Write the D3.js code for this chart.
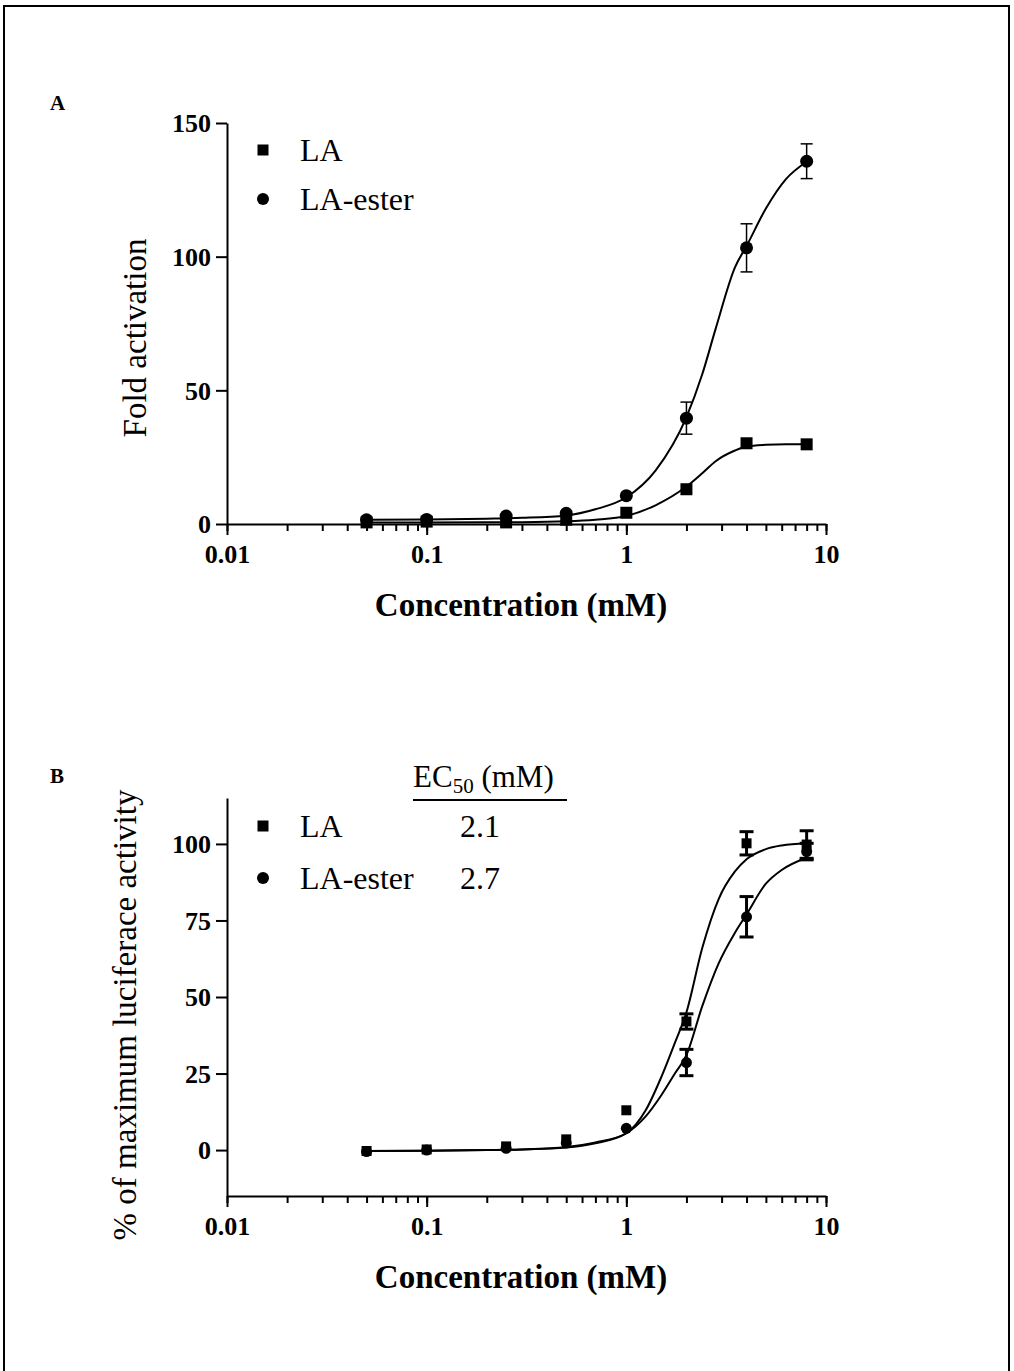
<!DOCTYPE html>
<html>
<head>
<meta charset="utf-8">
<script src="https://cdn.jsdelivr.net/npm/d3@7"></script>
<style>
  body { margin: 0; background: #fff; }
  svg { display: block; }
  text { font-family: "Liberation Serif", "Times New Roman", serif; fill: #000; }
</style>
</head>
<body>
<script>
// concentrations (mM), shared by both panels
const conc = [0.05, 0.1, 0.25, 0.5, 1, 2, 4, 8];
const xMajor = [0.01, 0.1, 1, 10];
const xMajorLabels = ["0.01", "0.1", "1", "10"];

// Panel A: fold activation
const aLA = [0.6, 0.9, 0.6, 1.6, 4.2, 13, 30.2, 29.8];
const aLAErr = [0, 0, 0, 0, 0, 0, 0, 0];
const aEster = [1.6, 1.7, 3, 4, 10.6, 39.6, 103.3, 135.7];
const aEsterErr = [0, 0, 0, 0, 0, 6, 9, 6.5];
const aYTicks = [0, 50, 100, 150];

// fitted curves of panel A
const aFitX = [0.05, 0.1, 0.2, 0.3, 0.5, 0.7, 1, 1.4, 2, 2.4, 2.8, 3.5, 4, 5, 6.3, 8];
const aFitLA = [0.6, 0.6, 0.65, 0.7, 1, 1.6, 3, 7, 14, 19, 23.5, 27.5, 29, 29.6, 29.8, 29.8];
const aFitEster = [1.6, 1.7, 2, 2.3, 3.2, 5.5, 10, 20, 40, 56, 73, 96, 104, 118, 129, 135.5];

// Panel B: % of maximum
const bLA = [-0.3, 0.2, 1.2, 3.5, 13, 42, 100.2, 99.8];
const bLAErr = [0, 0, 0, 0, 0, 2.5, 3.8, 4.5];
const bEster = [-0.5, 0, 0.6, 2.3, 7.1, 28.6, 76.2, 97.5];
const bEsterErr = [0, 0, 0, 0, 0, 4.3, 6.6, 2.7];
const bYTicks = [0, 25, 50, 75, 100];
const ec50 = ["2.1", "2.7"];

const bFitX = [0.05, 0.1, 0.2, 0.3, 0.5, 0.7, 1, 1.25, 1.5, 1.75, 2, 2.4, 2.9, 3.5, 4, 5, 6, 8];
const bFitLA = [-0.3, -0.2, 0, 0.2, 0.8, 2.2, 5.5, 13, 24, 35, 45, 66, 82, 91, 95, 98.3, 99.5, 100.2];
const bFitEster = [-0.3, -0.2, 0, 0.2, 1, 2.5, 5.5, 11, 18, 25, 31, 47, 61, 71, 77, 87, 91.5, 95.5];

const W = 1014, H = 1371;
const svg = d3.select("body").append("svg").attr("width", W).attr("height", H);

// frame
svg.append("rect").attr("x", 4).attr("y", 6).attr("width", 1005).attr("height", 1400)
  .attr("fill", "none").attr("stroke", "#000").attr("stroke-width", 2);

function drawPanel(cfg) {
  const g = svg.append("g");
  const x = d3.scaleLog().domain([0.01, 10]).range([227, 826]);
  const y = d3.scaleLinear().domain(cfg.yDomain).range([cfg.xAxisY, cfg.yTop]);

  // x axis: minor ticks then major ticks
  const gx = g.append("g").attr("transform", `translate(0,${cfg.xAxisY})`);
  gx.call(d3.axisBottom(x).tickValues(x.ticks()).tickSize(7).tickSizeOuter(0).tickFormat(""));
  gx.append("g").call(d3.axisBottom(x).tickValues(xMajor).tickSize(11).tickSizeOuter(0)
      .tickFormat((d, i) => xMajorLabels[i]))
    .call(a => a.select(".domain").remove());
  gx.selectAll("path, line").attr("stroke", "#000").attr("stroke-width", 2);
  gx.selectAll("text").attr("font-size", 26).attr("font-weight", "bold")
    .attr("font-family", "Liberation Serif").attr("dy", 0).attr("y", 39);

  // y axis
  const gy = g.append("g").attr("transform", "translate(227,0)");
  gy.call(d3.axisLeft(y).tickValues(cfg.yTicks).tickSize(11).tickSizeOuter(0));
  gy.selectAll("path, line").attr("stroke", "#000").attr("stroke-width", 2);
  gy.selectAll("text").attr("font-size", 26).attr("font-weight", "bold")
    .attr("font-family", "Liberation Serif").attr("x", -16).attr("dy", "0.34em");

  // axis titles
  g.append("text").attr("x", 521).attr("y", cfg.xAxisY + 92).attr("text-anchor", "middle")
    .attr("font-size", 33).attr("font-weight", "bold").text("Concentration (mM)");
  g.append("text").attr("transform", `translate(${cfg.yTitleX},${cfg.yTitleY}) rotate(-90)`)
    .attr("text-anchor", "middle").attr("font-size", 33).text(cfg.yTitle);

  // panel letter
  g.append("text").attr("x", 50).attr("y", cfg.letterY).attr("font-size", 21)
    .attr("font-weight", "bold").text(cfg.letter);

  // fitted curves
  const line = d3.line().x(d => x(d[0])).y(d => y(d[1])).curve(d3.curveMonotoneX);
  cfg.fits.forEach(f => {
    g.append("path").datum(d3.zip(cfg.fitX, f)).attr("d", line)
      .attr("fill", "none").attr("stroke", "#000").attr("stroke-width", 2);
  });

  // error bars + markers
  cfg.series.forEach(s => {
    const pts = conc.map((c, i) => ({ c, v: s.values[i], e: s.err[i] }));
    const eb = g.append("g").attr("stroke", "#000").attr("stroke-width", cfg.errWidth);
    pts.filter(d => d.e > 0).forEach(d => {
      const cx = x(d.c);
      eb.append("line").attr("x1", cx).attr("x2", cx).attr("y1", y(d.v - d.e)).attr("y2", y(d.v + d.e));
      [d.v - d.e, d.v + d.e].forEach(v => {
        eb.append("line").attr("x1", cx - cfg.cap).attr("x2", cx + cfg.cap).attr("y1", y(v)).attr("y2", y(v));
      });
    });
    if (s.shape === "square") {
      g.selectAll(null).data(pts).join("rect")
        .attr("x", d => x(d.c) - cfg.sq / 2).attr("y", d => y(d.v) - cfg.sq / 2)
        .attr("width", cfg.sq).attr("height", cfg.sq).attr("fill", "#000");
    } else {
      g.selectAll(null).data(pts).join("circle")
        .attr("cx", d => x(d.c)).attr("cy", d => y(d.v)).attr("r", cfg.r).attr("fill", "#000");
    }
  });

  // legend
  const lg = g.append("g");
  lg.append("rect").attr("x", 263 - cfg.legSq / 2).attr("y", cfg.legY[0] - cfg.legSq / 2)
    .attr("width", cfg.legSq).attr("height", cfg.legSq).attr("fill", "#000");
  lg.append("circle").attr("cx", 263).attr("cy", cfg.legY[1]).attr("r", cfg.legR).attr("fill", "#000");
  ["LA", "LA-ester"].forEach((t, i) => {
    lg.append("text").attr("x", 300).attr("y", cfg.legY[i]).attr("dy", "0.35em")
      .attr("font-size", 32).text(t);
  });
  return g;
}

drawPanel({
  letter: "A", letterY: 110,
  yDomain: [0, 150], yTicks: aYTicks, xAxisY: 524, yTop: 123,
  yTitle: "Fold activation", yTitleX: 146, yTitleY: 338,
  fitX: aFitX, fits: [aFitLA, aFitEster],
  series: [
    { values: aLA, err: aLAErr, shape: "square" },
    { values: aEster, err: aEsterErr, shape: "circle" }
  ],
  errWidth: 1.5, cap: 6, sq: 12, r: 6.5,
  legY: [150, 199], legSq: 11, legR: 6
});

const gB = drawPanel({
  letter: "B", letterY: 783,
  yDomain: [-15, 115], yTicks: bYTicks, xAxisY: 1196, yTop: 798,
  yTitle: "% of maximum luciferace activity", yTitleX: 136, yTitleY: 1015,
  fitX: bFitX, fits: [bFitLA, bFitEster],
  series: [
    { values: bLA, err: bLAErr, shape: "square" },
    { values: bEster, err: bEsterErr, shape: "circle" }
  ],
  errWidth: 3, cap: 7, sq: 10, r: 5.5,
  legY: [826, 878], legSq: 11, legR: 6
});

// EC50 table in panel B
const hdr = gB.append("text").attr("x", 413).attr("y", 787).attr("font-size", 31);
hdr.append("tspan").text("EC");
hdr.append("tspan").attr("font-size", 21).attr("dy", 6).text("50");
hdr.append("tspan").attr("dy", -6).text(" (mM)");
gB.append("line").attr("x1", 413).attr("x2", 567).attr("y1", 800).attr("y2", 800)
  .attr("stroke", "#000").attr("stroke-width", 2);
ec50.forEach((t, i) => {
  gB.append("text").attr("x", 460).attr("y", [826, 878][i]).attr("dy", "0.35em")
    .attr("font-size", 32).text(t);
});
</script>
</body>
</html>
